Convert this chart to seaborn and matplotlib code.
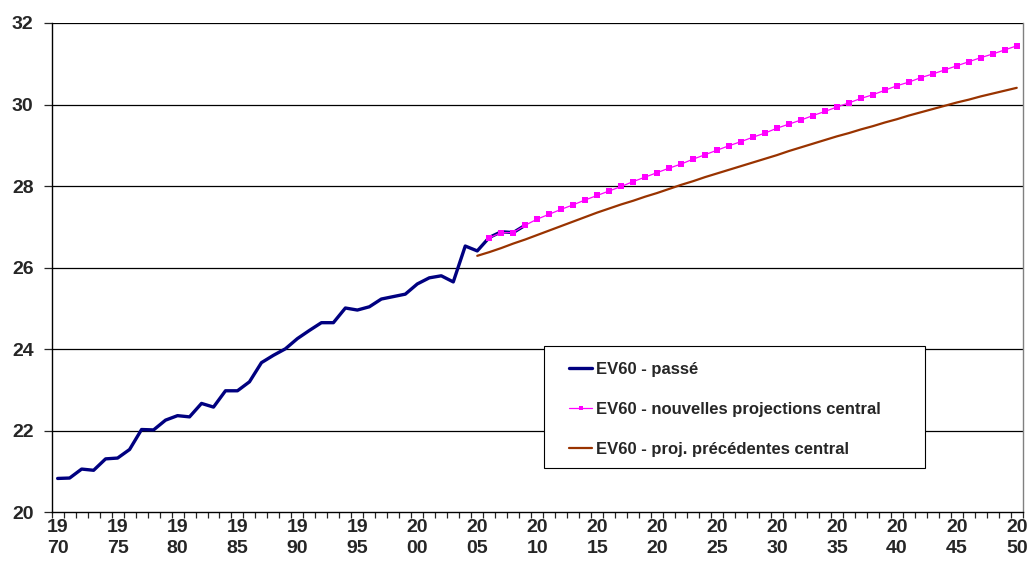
import matplotlib
matplotlib.use("Agg")
import matplotlib.pyplot as plt
from matplotlib.patches import Rectangle
import seaborn as sns
import pandas as pd

# EV60 (life expectancy at 60) - observed values
years_past = list(range(1970, 2010))
ev60_past = [20.83, 20.84, 21.06, 21.03, 21.31, 21.33, 21.54, 22.03, 22.02, 22.26,
             22.37, 22.34, 22.67, 22.58, 22.98, 22.98, 23.20, 23.67, 23.85, 24.01,
             24.26, 24.46, 24.65, 24.65, 25.01, 24.96, 25.04, 25.23, 25.29, 25.35,
             25.60, 25.75, 25.80, 25.65, 26.53, 26.41, 26.74, 26.88, 26.86, 27.04]

# new central projections
years_new = list(range(2006, 2051))
ev60_new = [26.73, 26.86, 26.86, 27.04, 27.19, 27.31, 27.43, 27.54, 27.66, 27.77,
            27.88, 27.99, 28.11, 28.22, 28.33, 28.44, 28.54, 28.66, 28.77, 28.88,
            28.99, 29.09, 29.20, 29.30, 29.42, 29.52, 29.62, 29.73, 29.83, 29.94,
            30.04, 30.15, 30.24, 30.35, 30.46, 30.55, 30.66, 30.75, 30.85, 30.95,
            31.05, 31.15, 31.24, 31.34, 31.44]

# previous central projections
years_prev = list(range(2005, 2051))
ev60_prev = [26.29, 26.38, 26.48, 26.59, 26.69, 26.80, 26.91, 27.02, 27.13, 27.24,
             27.35, 27.45, 27.55, 27.64, 27.74, 27.83, 27.93, 28.03, 28.12, 28.22,
             28.31, 28.40, 28.49, 28.58, 28.67, 28.76, 28.86, 28.95, 29.04, 29.13,
             29.22, 29.30, 29.39, 29.47, 29.56, 29.64, 29.73, 29.81, 29.89, 29.97,
             30.05, 30.12, 30.20, 30.27, 30.34, 30.41]

labels = ["EV60 - passé", "EV60 - nouvelles projections central",
          "EV60 - proj. précédentes central"]
label_years = list(range(1970, 2051, 5))
y_ticks = [20, 22, 24, 26, 28, 30, 32]

sns.set_style("white")
plt.rcParams['font.family'] = ['Liberation Sans', 'DejaVu Sans']
plt.rcParams['font.weight'] = 'bold'

df_past = pd.DataFrame({"year": years_past, "ev60": ev60_past})
df_new = pd.DataFrame({"year": years_new, "ev60": ev60_new})
df_prev = pd.DataFrame({"year": years_prev, "ev60": ev60_prev})

W, H = 1029, 565
fig = plt.figure(figsize=(W / 100, H / 100), dpi=100)
ax = fig.add_axes([0.0502, 0.0933, 0.9437, 0.866])

sns.lineplot(data=df_past, x="year", y="ev60", ax=ax, color="#000080",
             linewidth=2.4, label=labels[0], zorder=3)
sns.lineplot(data=df_new, x="year", y="ev60", ax=ax, color="#FF00FF",
             linewidth=0.9, marker="s", markersize=3.8, markeredgewidth=0,
             label=labels[1], zorder=4)
sns.lineplot(data=df_prev, x="year", y="ev60", ax=ax, color="#993300",
             linewidth=1.6, label=labels[2], zorder=3)

ax.set_xlim(1969.5, 2050.5)
ax.set_ylim(20, 32)
ax.set_xlabel("")
ax.set_ylabel("")

# gridlines at the y ticks
ax.set_yticks(y_ticks)
ax.set_yticklabels([str(v) for v in y_ticks], fontsize=14, fontweight="bold")
for v in y_ticks[1:]:
    ax.axhline(v, color="black", linewidth=0.9, zorder=1)
ax.tick_params(axis="y", direction="out", length=6, width=0.9, pad=7, left=True)

# category boundaries as tick marks, labels at category centres
ax.set_xticks([y - 0.5 for y in range(1970, 2052)])
ax.set_xticklabels([])
ax.tick_params(axis="x", which="major", direction="out", length=4.5, width=0.9, bottom=True)
ax.set_xticks(label_years, minor=True)
ax.set_xticklabels([f"{y // 100}\n{y % 100:02d}" for y in label_years], minor=True,
                   fontsize=14, fontweight="bold", linespacing=1.3)
ax.tick_params(axis="x", which="minor", length=0, pad=5)

for side in ["left", "bottom"]:
    ax.spines[side].set_color("black")
    ax.spines[side].set_linewidth(1.0)
ax.spines["top"].set_visible(False)
ax.spines["right"].set_color("#808080")
ax.spines["right"].set_linewidth(1.0)

# legend box drawn separately, entries placed inside it
box = Rectangle((544 / W, 1 - 468 / H), 381 / W, 122 / H,
                transform=fig.transFigure, facecolor="white",
                edgecolor="black", linewidth=0.8, zorder=5, clip_on=False)
ax.add_patch(box)
leg = ax.legend(loc="upper left", bbox_to_anchor=(569 / W, 1 - 362 / H),
                bbox_transform=fig.transFigure, frameon=False,
                prop={"weight": "bold", "size": 12}, handlelength=1.4,
                handletextpad=0.25, labelspacing=1.5, borderpad=0, borderaxespad=0)
leg.set_zorder(6)
for h in leg.legend_handles:
    h.set_markersize(2.5)

fig.savefig("out.png", dpi=100)
